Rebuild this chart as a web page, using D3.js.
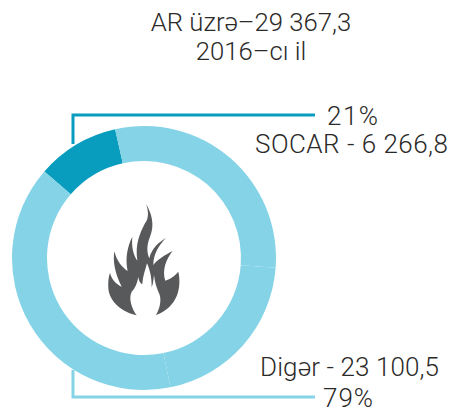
<!DOCTYPE html>
<html>
<head>
<meta charset="utf-8">
<script src="https://cdn.jsdelivr.net/npm/d3@7"></script>
<style>
html, body { margin: 0; padding: 0; background: #fff; }
svg { display: block; }
text { font-family: Roboto, sans-serif; font-weight: 300; fill: #2b2a29; }
</style>
</head>
<body>
<svg id="chart" width="453" height="412"></svg>
<script>
// ring pieces as drawn, starting at the dark one and going clockwise
const slices = ["SOCAR", "Digər", "Digər", "Digər"];
const sliceShares = [10.1, 29.7, 20.6, 39.6];
const sliceColors = ["#089cbe", "#84d3e6", "#84d3e6", "#84d3e6"];

const titleLines = ["AR üzrə–29 367,3", "2016–cı il"];
const labels = ["21%", "SOCAR - 6 266,8", "Digər - 23 100,5", "79%"];

// flame icon outline, traced at 3x and scaled down when drawn
const flame = "M140,376 C95,366 58,335 55,295 C54,280 55,262 60,248 C65,268 78,282 95,290 " +
    "C75,250 68,215 73,184 C80,212 95,232 113,243 C105,205 112,170 127,140 C124,170 130,195 142,212 " +
    "C135,160 150,130 165,100 C178,85 175,60 168,42 C185,70 195,105 180,140 C170,165 170,185 178,205 " +
    "C185,175 205,158 228,143 C208,165 190,190 190,225 C200,210 225,195 248,183 C230,205 215,240 226,272 " +
    "C240,268 258,255 265,245 C275,290 265,350 198,375 " +
    "C210,355 215,330 208,312 C200,295 194,275 192,255 C190,270 190,280 185,292 C186,265 180,240 171,220 " +
    "C166,240 158,260 157,282 C150,280 146,270 145,260 C142,280 135,295 125,305 C115,325 125,355 140,376 Z";

const svg = d3.select("#chart");
const cx = 144, cy = 258;
const outer = 132, inner = 97;

const pie = d3.pie()
    .sort(null)
    .startAngle(-49 * Math.PI / 180)
    .endAngle(311 * Math.PI / 180);
const arc = d3.arc().innerRadius(inner).outerRadius(outer);

// leader lines go under the ring
svg.append("path")
    .attr("d", "M73,144V115H315")
    .attr("fill", "none")
    .attr("stroke", sliceColors[0])
    .attr("stroke-width", 3);
svg.append("path")
    .attr("d", "M73,370V397H315")
    .attr("fill", "none")
    .attr("stroke", sliceColors[1])
    .attr("stroke-width", 3);

svg.append("g")
    .attr("transform", `translate(${cx},${cy})`)
    .selectAll("path")
    .data(pie(sliceShares))
    .join("path")
    .attr("d", arc)
    .attr("fill", (d, i) => sliceColors[i]);

svg.append("path")
    .attr("transform", "translate(90,190) scale(0.3333)")
    .attr("d", flame)
    .attr("fill", "#58595b");

svg.selectAll(".title")
    .data(titleLines)
    .join("text")
    .attr("class", "title")
    .attr("x", 251)
    .attr("y", (d, i) => 31 + i * 29)
    .attr("text-anchor", "middle")
    .attr("font-size", 25.7)
    .text(d => d);

const labelX = [327, 255, 260, 323];
const labelY = [125, 153, 376, 407];
const labelW = [51, 193, 179, 50];
svg.selectAll(".label")
    .data(labels)
    .join("text")
    .attr("class", "label")
    .attr("x", (d, i) => labelX[i])
    .attr("y", (d, i) => labelY[i])
    .attr("font-size", 26)
    .attr("textLength", (d, i) => labelW[i])
    .text(d => d);
</script>
</body>
</html>
